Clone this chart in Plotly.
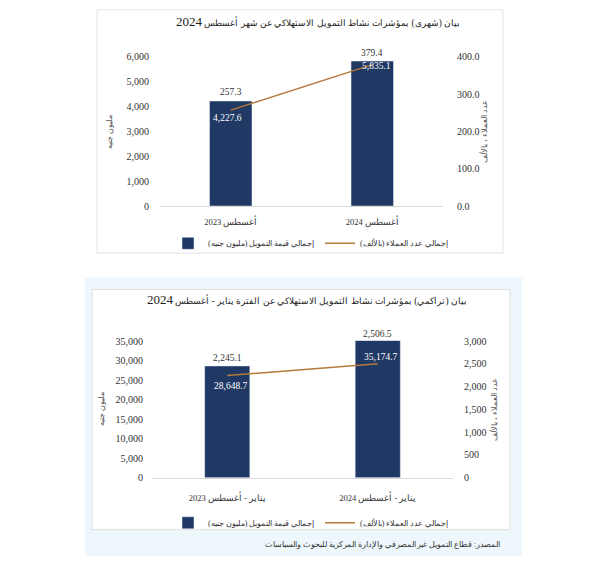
import plotly.graph_objects as go

W, H = 600, 570

# ---- data ----
cats_monthly = ["أغسطس 2023", "أغسطس 2024"]
finance_monthly = [4227.6, 5835.1]        # million EGP
clients_monthly = [257.3, 379.4]          # thousands

cats_cum = ["يناير - أغسطس 2023", "يناير - أغسطس 2024"]
finance_cum = [28648.7, 35174.7]
clients_cum = [2245.1, 2506.5]

title_monthly = "بيان (شهرى) بمؤشرات نشاط التمويل الاستهلاكي عن شهر أغسطس"
title_cum = "بيان (تراكمي) بمؤشرات نشاط التمويل الاستهلاكي عن الفترة يناير - أغسطس"
title_year = "2024"
name_bar = "إجمالي قيمة التمويل (مليون جنيه)"
name_line = "إجمالي عدد العملاء (بالألف)"
left_title = "مليون جنيه"
right_title = "عدد العملاء ، بالألف"
source = "المصدر: قطاع التمويل غير المصرفي والإدارة المركزية للبحوث والسياسات"

NAVY = "#1f3864"
LINE = "#b5793a"
FONT = "Liberation Serif"
TXT = "#333333"


def px_x(x):
    return x / W


def px_y(y):
    return 1 - y / H


fig = go.Figure()

fig.add_trace(go.Bar(x=cats_monthly, y=finance_monthly, name=name_bar, marker_color=NAVY,
                     width=0.3, xaxis="x", yaxis="y", legend="legend"))
fig.add_trace(go.Scatter(x=cats_monthly, y=clients_monthly, name=name_line, mode="lines",
                         line=dict(color=LINE, width=1.5), xaxis="x", yaxis="y2", legend="legend"))
fig.add_trace(go.Bar(x=cats_cum, y=finance_cum, name=name_bar, marker_color=NAVY,
                     width=0.3, xaxis="x2", yaxis="y3", legend="legend2"))
fig.add_trace(go.Scatter(x=cats_cum, y=clients_cum, name=name_line, mode="lines",
                         line=dict(color=LINE, width=1.5), xaxis="x2", yaxis="y4", legend="legend2"))

tickfont = dict(size=10, color=TXT, family=FONT)
catfont = dict(size=8.5, color=TXT, family=FONT)
axtitlefont = dict(size=8, color="#555", family=FONT)

fig.update_layout(
    width=W, height=H, margin=dict(l=0, r=0, t=0, b=0),
    paper_bgcolor="white", plot_bgcolor="rgba(0,0,0,0)",
    font=dict(family=FONT, color=TXT),
    showlegend=True,
    xaxis=dict(domain=[px_x(160), px_x(443)], anchor="y", showgrid=False, showline=True,
               linecolor="#d9d9d9", linewidth=1, ticks="", tickfont=catfont, ticklabelstandoff=8),
    yaxis=dict(domain=[px_y(205), px_y(53)], anchor="x", range=[0, 6000], dtick=1000,
               tickformat=",", showgrid=False, zeroline=False, showline=False, tickfont=tickfont,
               ticklabelstandoff=10,
               title=dict(text=left_title, font=axtitlefont, standoff=12)),
    yaxis2=dict(domain=[px_y(205), px_y(53)], anchor="x", overlaying="y", side="right",
                range=[0, 400], dtick=100, tickformat=".1f", showgrid=False, zeroline=False,
                tickfont=tickfont, ticklabelstandoff=13,
                title=dict(text=right_title, font=axtitlefont, standoff=2)),
    xaxis2=dict(domain=[px_x(152), px_x(453)], anchor="y3", showgrid=False, showline=True,
                linecolor="#d9d9d9", linewidth=1, ticks="", tickfont=catfont, ticklabelstandoff=12),
    yaxis3=dict(domain=[px_y(482), px_y(342)], anchor="x2", range=[0, 35200], tickvals=list(range(0, 35001, 5000)),
                tickformat=",", showgrid=False, zeroline=False, tickfont=tickfont,
                ticklabelstandoff=8,
                title=dict(text=left_title, font=axtitlefont, standoff=9)),
    yaxis4=dict(domain=[px_y(482), px_y(342)], anchor="x2", overlaying="y3", side="right",
                range=[0, 3017], tickvals=list(range(0, 3001, 500)), tickformat=",", showgrid=False,
                zeroline=False, tickfont=tickfont, ticklabelstandoff=10,
                title=dict(text=right_title, font=axtitlefont, standoff=5)),
    legend=dict(orientation="h", x=px_x(168), y=px_y(243), xanchor="left", yanchor="middle",
                font=dict(size=8, color=TXT, family=FONT), bgcolor="rgba(0,0,0,0)",
                entrywidth=107, itemwidth=30),
    legend2=dict(orientation="h", x=px_x(168), y=px_y(528), xanchor="left", yanchor="middle",
                 font=dict(size=8, color=TXT, family=FONT), bgcolor="rgba(0,0,0,0)",
                 entrywidth=107, itemwidth=30),
)

shapes = [
    dict(type="rect", xref="paper", yref="paper", x0=px_x(97), x1=px_x(503), y0=px_y(253), y1=px_y(5),
         line=dict(color="#e3e3e3", width=1), fillcolor="rgba(0,0,0,0)", layer="below"),
    dict(type="rect", xref="paper", yref="paper", x0=px_x(85), x1=px_x(522), y0=px_y(562), y1=px_y(278),
         line=dict(width=0), fillcolor="#eef8fc", layer="below"),
    dict(type="rect", xref="paper", yref="paper", x0=px_x(92), x1=px_x(510), y0=px_y(535), y1=px_y(290),
         line=dict(color="#dedede", width=1), fillcolor="white", layer="below"),
]

annotations = [
    dict(text=f"{title_monthly} <span style='font-size:13px'>{title_year}</span>", xref="paper",
         yref="paper", x=px_x(318), y=px_y(17), yanchor="middle", showarrow=False,
         font=dict(size=9.3, color="#222", family=FONT)),
    dict(text=f"{title_cum} <span style='font-size:13px'>{title_year}</span>", xref="paper",
         yref="paper", x=px_x(307), y=px_y(300), yanchor="middle", showarrow=False,
         font=dict(size=9.3, color="#222", family=FONT)),
    dict(text=source, xref="paper", yref="paper", x=px_x(502), y=px_y(550), xanchor="right",
         yanchor="middle", showarrow=False, font=dict(size=7.5, color="#333", family=FONT)),
]

# label offsets (style): line-label yshift, bar-label yshift, bar-label xshift
top_line_shift = [9, 8]
top_bar_shift = [-17, -5]
top_bar_x = [-3, 4]
bot_line_shift = [8, 7]
bot_bar_shift = [-20, -16]
bot_bar_x = [4, 3]
VAL = 9.5

for i, (c, v, fv) in enumerate(zip(cats_monthly, clients_monthly, finance_monthly)):
    annotations.append(dict(x=c, y=fv, xref="x", yref="y", text=f"{v:,.1f}", showarrow=False,
                            yshift=top_line_shift[i], font=dict(size=VAL, color=TXT, family=FONT)))
    annotations.append(dict(x=c, y=fv, xref="x", yref="y", text=f"{fv:,.1f}", showarrow=False,
                            yshift=top_bar_shift[i], xshift=top_bar_x[i],
                            font=dict(size=VAL, color="white", family=FONT)))
for i, (c, v, fv) in enumerate(zip(cats_cum, clients_cum, finance_cum)):
    annotations.append(dict(x=c, y=fv, xref="x2", yref="y3", text=f"{v:,.1f}", showarrow=False,
                            yshift=bot_line_shift[i], font=dict(size=VAL, color=TXT, family=FONT)))
    annotations.append(dict(x=c, y=fv, xref="x2", yref="y3", text=f"{fv:,.1f}", showarrow=False,
                            yshift=bot_bar_shift[i], xshift=bot_bar_x[i],
                            font=dict(size=VAL, color="white", family=FONT)))

fig.update_layout(shapes=shapes, annotations=annotations)

fig.write_html("out.html")
